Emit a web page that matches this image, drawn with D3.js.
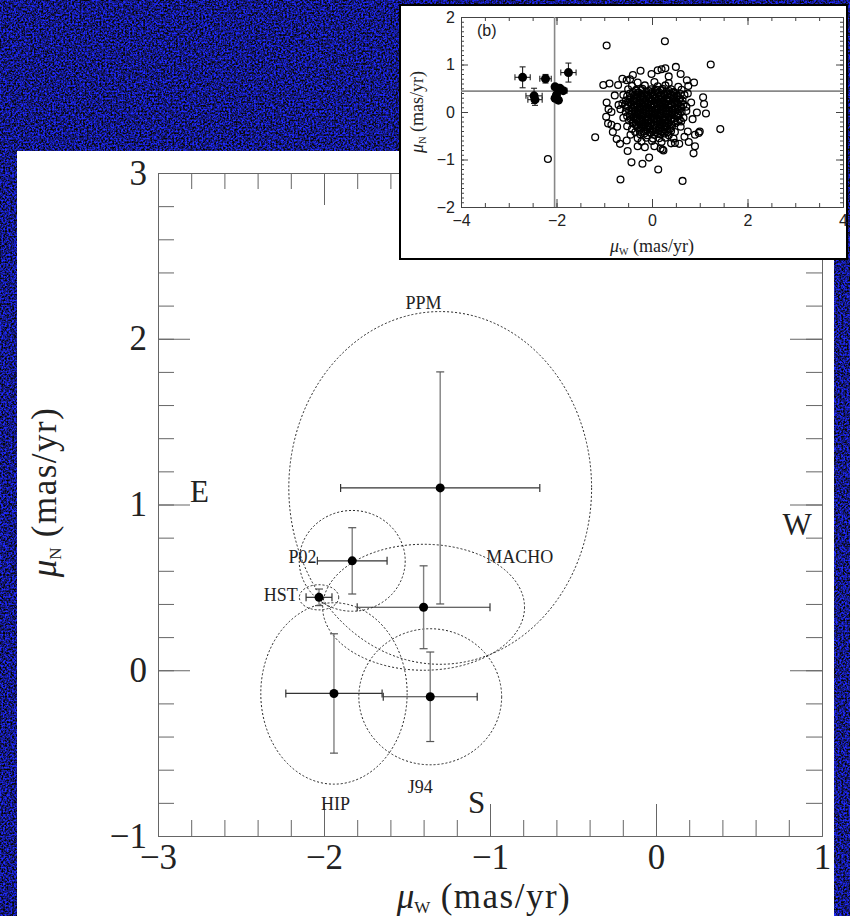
<!DOCTYPE html>
<html>
<head>
<meta charset="utf-8">
<script src="https://cdn.jsdelivr.net/npm/d3@7"></script>
<style>
  body { margin: 0; background: #0a1280; }
  svg { display: block; }
</style>
</head>
<body>
<div id="chart"></div>
<script>
// main panel: proper motion per catalogue
var catalogs = ["PPM", "P02", "HST", "MACHO", "HIP", "J94"];
var muW = [-1.30, -1.83, -2.03, -1.40, -1.94, -1.36];
var muN = [1.10, 0.66, 0.44, 0.38, -0.14, -0.16];
var errW = [0.60, 0.21, 0.078, 0.40, 0.29, 0.283];
var errN = [0.70, 0.20, 0.05, 0.25, 0.36, 0.27];
var labelW = [-1.40, -2.13, -2.26, -0.82, -1.93, -1.42];
var labelN = [2.18, 0.645, 0.42, 0.645, -0.845, -0.742];

var compass = ["E", "W", "S"];
var compassW = [-2.75, 0.85, -1.08];
var compassN = [1.015, 0.816, -0.862];

var xTicks = [-3, -2, -1, 0, 1];
var xTickLabels = ["\u22123", "\u22122", "\u22121", "0", "1"];
var yTicks = [-1, 0, 1, 2, 3];
var yTickLabels = ["\u22121", "0", "1", "2", "3"];

// inset (b): filled points with errors
var insetW = [-2.71, -2.23, -1.75, -2.47, -2.45, -2.03, -1.93, -1.86, -2.00, -1.96, -2.03];
var insetN = [0.73, 0.70, 0.83, 0.34, 0.26, 0.53, 0.50, 0.45, 0.36, 0.25, 0.29];
var insetErrW = [0.16, 0.12, 0.16, 0.17, 0.15, 0.06, 0.06, 0.08, 0.05, 0.05, 0.05];
var insetErrN = [0.22, 0.09, 0.20, 0.16, 0.12, 0.05, 0.05, 0.06, 0.05, 0.05, 0.05];
var insetCross = [-2.04, 0.44];
var insetTicks = [-4, -2, 0, 2, 4];
var insetTickLabels = ["\u22124", "\u22122", "0", "2", "4"];
var insetYTicks = [-2, -1, 0, 1, 2];
var insetYTickLabels = ["\u22122", "\u22121", "0", "1", "2"];

// inset (b): field stars, open circles
var fieldStars = [
  [-0.95,1.40],[0.27,1.49],[1.23,1.00],[-1.02,0.57],[-0.89,0.60],[-1.19,-0.53],[-0.66,-1.42],
  [0.64,-1.45],[0.13,-1.21],[-0.43,-1.06],[-0.20,-1.09],[-0.06,-0.96],[-0.51,-0.82],[1.43,-0.36],
  [0.87,-0.87],[0.90,-0.72],[1.00,-0.41],[0.98,-0.44],[1.13,-0.03],[0.94,-0.01],[1.07,0.31],
  [1.09,0.17],[0.50,0.95],[-0.24,0.87],[0.12,0.88],[0.20,0.90],[0.28,0.92],[-0.53,0.67],
  [-0.46,0.69],[-0.71,0.57],[-0.95,0.20],[0.73,0.67],[0.88,0.62],[0.76,0.55],[0.24,-0.81],
  [0.22,-0.79],[0.18,-0.77],[0.48,-0.65],[0.57,-0.67],[0.77,-0.63],[0.90,-0.48],[-0.74,-0.57],
  [-0.67,-0.67],[-0.53,-0.60],[-0.92,-0.24],[-0.85,-0.27],[-0.96,-0.10],[-0.85,0.00],[-0.91,0.06],
  [-0.73,-0.31],[-0.15,-0.74],[0.40,-0.66],[0.75,-0.41],[0.61,-0.20],[0.72,0.02],[0.75,0.39],
  [-0.01,0.80],[-2.18,-0.99],[-0.62,0.70],[-0.78,0.35],[-0.70,0.15],[-0.82,-0.42],[0.82,0.20],
  [0.85,-0.15],[0.68,-0.52],[-0.30,-0.72],[0.05,-0.72],[0.35,0.75],[-0.40,0.78],[0.60,0.80],
  [-0.30,0.62],[0.05,0.63],[0.35,0.61],[-0.42,0.55],[-0.15,0.56],[0.12,0.54],[0.28,0.56],[0.55,0.53],
  [-0.50,0.48],[-0.33,0.47],[-0.20,0.49],[-0.02,0.48],[0.10,0.47],[0.22,0.49],[0.40,0.48],[0.62,0.47],
  [-0.40,0.42],[-0.28,0.41],[-0.12,0.43],[0.00,0.42],[0.15,0.41],[0.30,0.43],[0.45,0.42],
  [-0.60,0.36],[-0.35,0.37],[-0.22,0.35],[-0.08,0.36],[0.05,0.37],[0.18,0.35],[0.27,0.36],[0.38,0.37],[0.52,0.35],[0.68,0.36],
  [-0.45,0.30],[-0.30,0.31],[-0.18,0.29],[-0.05,0.30],[0.08,0.31],[0.20,0.29],[0.33,0.30],[0.46,0.31],[0.58,0.29],
  [-0.55,0.24],[-0.38,0.25],[-0.25,0.23],[-0.12,0.24],[0.00,0.25],[0.12,0.23],[0.24,0.24],[0.36,0.25],[0.50,0.23],[0.64,0.24],
  [-0.62,0.18],[-0.44,0.19],[-0.32,0.17],[-0.20,0.18],[-0.08,0.19],[0.04,0.17],[0.16,0.18],[0.28,0.19],[0.40,0.17],[0.55,0.18],
  [-0.50,0.12],[-0.37,0.13],[-0.26,0.11],[-0.14,0.12],[-0.02,0.13],[0.10,0.11],[0.22,0.12],[0.34,0.13],[0.47,0.11],[0.60,0.12],[0.72,0.11],
  [-0.66,0.06],[-0.42,0.07],[-0.30,0.05],[-0.18,0.06],[-0.06,0.07],[0.06,0.05],[0.18,0.06],[0.30,0.07],[0.42,0.05],[0.54,0.06],
  [-0.55,0.00],[-0.36,0.01],[-0.24,-0.01],[-0.12,0.00],[0.00,0.01],[0.12,-0.01],[0.24,0.00],[0.36,0.01],[0.48,-0.01],[0.62,0.00],
  [-0.46,-0.06],[-0.30,-0.05],[-0.18,-0.07],[-0.06,-0.06],[0.06,-0.05],[0.18,-0.07],[0.30,-0.06],[0.42,-0.05],[0.56,-0.07],
  [-0.60,-0.12],[-0.38,-0.11],[-0.26,-0.13],[-0.14,-0.12],[-0.02,-0.11],[0.10,-0.13],[0.22,-0.12],[0.34,-0.11],[0.46,-0.13],[0.66,-0.12],
  [-0.48,-0.18],[-0.32,-0.17],[-0.20,-0.19],[-0.08,-0.18],[0.04,-0.17],[0.16,-0.19],[0.28,-0.18],[0.40,-0.17],[0.54,-0.19],
  [-0.40,-0.24],[-0.26,-0.23],[-0.14,-0.25],[-0.02,-0.24],[0.10,-0.23],[0.22,-0.25],[0.34,-0.24],[0.50,-0.23],
  [-0.52,-0.30],[-0.32,-0.29],[-0.20,-0.31],[-0.08,-0.30],[0.04,-0.29],[0.16,-0.31],[0.28,-0.30],[0.42,-0.29],[0.60,-0.31],
  [-0.42,-0.36],[-0.25,-0.35],[-0.10,-0.37],[0.02,-0.36],[0.14,-0.35],[0.26,-0.37],[0.38,-0.36],
  [-0.35,-0.42],[-0.18,-0.41],[-0.04,-0.43],[0.08,-0.42],[0.20,-0.41],[0.32,-0.43],[0.48,-0.42],
  [-0.45,-0.48],[-0.25,-0.47],[-0.10,-0.49],[0.05,-0.48],[0.18,-0.47],[0.35,-0.49],
  [-0.30,-0.55],[-0.12,-0.54],[0.02,-0.56],[0.15,-0.55],[0.28,-0.54],[0.45,-0.56],
  [-0.22,-0.62],[0.00,-0.61],[0.20,-0.63],
  // dense core
  [-0.34,0.45],[-0.22,0.46],[-0.06,0.44],[0.06,0.45],[0.20,0.46],[0.36,0.44],
  [-0.46,0.39],[-0.30,0.40],[-0.16,0.38],[-0.02,0.39],[0.11,0.40],[0.24,0.38],[0.33,0.39],[0.45,0.40],[0.60,0.38],
  [-0.52,0.33],[-0.38,0.34],[-0.24,0.32],[-0.12,0.33],[0.02,0.34],[0.14,0.32],[0.26,0.33],[0.40,0.34],[0.52,0.32],
  [-0.47,0.27],[-0.32,0.28],[-0.19,0.26],[-0.06,0.27],[0.06,0.28],[0.18,0.26],[0.30,0.27],[0.43,0.28],[0.57,0.26],
  [-0.50,0.21],[-0.38,0.22],[-0.26,0.20],[-0.14,0.21],[-0.02,0.22],[0.10,0.20],[0.22,0.21],[0.34,0.22],[0.47,0.20],[0.60,0.21],
  [-0.56,0.15],[-0.43,0.16],[-0.31,0.14],[-0.20,0.15],[-0.08,0.16],[0.04,0.14],[0.16,0.15],[0.28,0.16],[0.40,0.14],[0.53,0.15],[0.66,0.16],
  [-0.54,0.09],[-0.36,0.10],[-0.24,0.08],[-0.12,0.09],[0.00,0.10],[0.12,0.08],[0.24,0.09],[0.36,0.10],[0.48,0.08],[0.62,0.09],
  [-0.48,0.03],[-0.30,0.04],[-0.18,0.02],[-0.06,0.03],[0.06,0.04],[0.18,0.02],[0.30,0.03],[0.42,0.04],[0.56,0.02],
  [-0.42,-0.03],[-0.30,-0.02],[-0.18,-0.04],[-0.06,-0.03],[0.06,-0.02],[0.18,-0.04],[0.30,-0.03],[0.42,-0.02],[0.54,-0.04],
  [-0.52,-0.09],[-0.34,-0.08],[-0.22,-0.10],[-0.10,-0.09],[0.02,-0.08],[0.14,-0.10],[0.26,-0.09],[0.38,-0.08],[0.52,-0.10],
  [-0.44,-0.15],[-0.32,-0.14],[-0.20,-0.16],[-0.08,-0.15],[0.04,-0.14],[0.16,-0.16],[0.28,-0.15],[0.40,-0.14],[0.58,-0.16],
  [-0.40,-0.21],[-0.26,-0.20],[-0.14,-0.22],[-0.02,-0.21],[0.10,-0.20],[0.22,-0.22],[0.34,-0.21],[0.46,-0.20],
  [-0.34,-0.27],[-0.20,-0.26],[-0.08,-0.28],[0.04,-0.27],[0.16,-0.26],[0.28,-0.28],[0.40,-0.27],
  [-0.30,-0.33],[-0.16,-0.32],[-0.04,-0.34],[0.08,-0.33],[0.20,-0.32],[0.32,-0.34],
  [-0.26,-0.39],[-0.10,-0.38],[0.02,-0.40],[0.14,-0.39],[0.26,-0.38],[0.40,-0.40],
  [-0.16,-0.45],[-0.02,-0.44],[0.12,-0.46],[0.26,-0.45]
];

var K = 1.52; // 1-sigma joint confidence ellipse scale

var svg = d3.select("#chart").append("svg")
  .attr("width", 850)
  .attr("height", 916);

// noisy blue backdrop
var defs = svg.append("defs");
var noise = defs.append("filter").attr("id", "noise")
  .attr("x", 0).attr("y", 0).attr("width", "100%").attr("height", "100%")
  .attr("color-interpolation-filters", "sRGB");
noise.append("feTurbulence")
  .attr("type", "fractalNoise")
  .attr("baseFrequency", 0.55)
  .attr("numOctaves", 2)
  .attr("seed", 11);
noise.append("feColorMatrix")
  .attr("type", "matrix")
  .attr("values", "0 0.2 0 0 -0.02  0 0.3 0 0 -0.05  0 2.6 0 0 -0.78  0 0 0 0 1");

svg.append("rect").attr("width", 850).attr("height", 916).attr("fill", "#0a1280");
svg.append("rect").attr("width", 850).attr("height", 916).attr("filter", "url(#noise)");

// white main panel
svg.append("rect")
  .attr("x", 17).attr("y", 151)
  .attr("width", 817).attr("height", 765)
  .attr("fill", "#fff");

var serif = "'Liberation Serif', 'Times New Roman', serif";
var sans = "'Liberation Sans', Arial, sans-serif";
var axisColor = "#666";

var x = d3.scaleLinear().domain([-3, 1]).range([158, 822]);
var y = d3.scaleLinear().domain([-1, 3]).range([836, 173]);

function styleAxis(g, color) {
  g.select(".domain").attr("stroke", color);
  g.selectAll(".tick line").attr("stroke", color);
}

// frame: minor + major ticks on all four sides, pointing inward
var frame = svg.append("g");
frame.append("g").attr("transform", "translate(0,836)")
  .call(d3.axisBottom(x).tickValues(x.ticks(20)).tickSize(-16).tickSizeOuter(0).tickFormat(""))
  .call(styleAxis, axisColor);
frame.append("g").attr("transform", "translate(0,836)")
  .call(d3.axisBottom(x).tickValues(xTicks).tickSize(-32).tickSizeOuter(0).tickPadding(8)
    .tickFormat(function (d, i) { return xTickLabels[i]; }))
  .call(styleAxis, axisColor)
  .selectAll("text").attr("font-family", serif).attr("font-size", 35).attr("fill", "#222");
frame.append("g").attr("transform", "translate(0,173)")
  .call(d3.axisTop(x).tickValues(x.ticks(20)).tickSize(-16).tickSizeOuter(0).tickFormat(""))
  .call(styleAxis, axisColor);
frame.append("g").attr("transform", "translate(0,173)")
  .call(d3.axisTop(x).tickValues(xTicks).tickSize(-32).tickSizeOuter(0).tickFormat(""))
  .call(styleAxis, axisColor);
frame.append("g").attr("transform", "translate(158,0)")
  .call(d3.axisLeft(y).tickValues(y.ticks(20)).tickSize(-16).tickSizeOuter(0).tickFormat(""))
  .call(styleAxis, axisColor);
frame.append("g").attr("transform", "translate(158,0)")
  .call(d3.axisLeft(y).tickValues(yTicks).tickSize(-32).tickSizeOuter(0).tickPadding(11)
    .tickFormat(function (d, i) { return yTickLabels[i]; }))
  .call(styleAxis, axisColor)
  .selectAll("text").attr("font-family", serif).attr("font-size", 35).attr("fill", "#222");
frame.append("g").attr("transform", "translate(822,0)")
  .call(d3.axisRight(y).tickValues(y.ticks(20)).tickSize(-16).tickSizeOuter(0).tickFormat(""))
  .call(styleAxis, axisColor);
frame.append("g").attr("transform", "translate(822,0)")
  .call(d3.axisRight(y).tickValues(yTicks).tickSize(-32).tickSizeOuter(0).tickFormat(""))
  .call(styleAxis, axisColor);

// axis titles
var xTitle = svg.append("text")
  .attr("x", 484).attr("y", 908)
  .attr("text-anchor", "middle")
  .attr("font-family", serif).attr("font-size", 35).attr("fill", "#222");
xTitle.append("tspan").attr("font-style", "italic").text("\u03bc");
xTitle.append("tspan").attr("font-size", 17).attr("dy", 5).text("W");
xTitle.append("tspan").attr("dy", -5).attr("letter-spacing", 1.5).text(" (mas/yr)");

var yTitle = svg.append("text")
  .attr("transform", "translate(56,492) rotate(-90)")
  .attr("text-anchor", "middle")
  .attr("font-family", serif).attr("font-size", 35).attr("fill", "#222");
yTitle.append("tspan").attr("font-style", "italic").text("\u03bc");
yTitle.append("tspan").attr("font-size", 17).attr("dy", 5).text("N");
yTitle.append("tspan").attr("dy", -5).attr("letter-spacing", 1.5).text(" (mas/yr)");

// confidence ellipses
var plot = svg.append("g");
plot.selectAll(".ell")
  .data(catalogs)
  .enter().append("ellipse")
  .attr("class", "ell")
  .attr("cx", function (d, i) { return x(muW[i]); })
  .attr("cy", function (d, i) { return y(muN[i]); })
  .attr("rx", function (d, i) { return x(muW[i] + K * errW[i]) - x(muW[i]); })
  .attr("ry", function (d, i) { return y(muN[i]) - y(muN[i] + K * errN[i]); })
  .attr("fill", "none")
  .attr("stroke", "#222")
  .attr("stroke-width", 1)
  .attr("stroke-dasharray", "2,2");

// error bars
var capW = 4;
catalogs.forEach(function (c, i) {
  var g = plot.append("g");
  var x0 = x(muW[i] - errW[i]), x1 = x(muW[i] + errW[i]);
  var y0 = y(muN[i] - errN[i]), y1 = y(muN[i] + errN[i]);
  var cx = x(muW[i]), cy = y(muN[i]);
  g.append("line").attr("x1", x0).attr("x2", x1).attr("y1", cy).attr("y2", cy)
    .attr("stroke", "#333").attr("stroke-width", 1.2);
  [x0, x1].forEach(function (xx) {
    g.append("line").attr("x1", xx).attr("x2", xx).attr("y1", cy - capW).attr("y2", cy + capW)
      .attr("stroke", "#333").attr("stroke-width", 1.2);
  });
  g.append("line").attr("x1", cx).attr("x2", cx).attr("y1", y0).attr("y2", y1)
    .attr("stroke", "#808080").attr("stroke-width", 1.4);
  [y0, y1].forEach(function (yy) {
    g.append("line").attr("x1", cx - capW).attr("x2", cx + capW).attr("y1", yy).attr("y2", yy)
      .attr("stroke", "#555").attr("stroke-width", 1.2);
  });
});

plot.selectAll(".pt")
  .data(catalogs)
  .enter().append("circle")
  .attr("class", "pt")
  .attr("cx", function (d, i) { return x(muW[i]); })
  .attr("cy", function (d, i) { return y(muN[i]); })
  .attr("r", 4.5)
  .attr("fill", "#000");

// catalogue labels
plot.selectAll(".lbl")
  .data(catalogs)
  .enter().append("text")
  .attr("class", "lbl")
  .attr("x", function (d, i) { return x(labelW[i]); })
  .attr("y", function (d, i) { return y(labelN[i]); })
  .attr("text-anchor", "middle")
  .attr("font-family", serif).attr("font-size", 18).attr("fill", "#222")
  .text(function (d) { return d; });

plot.selectAll(".dir")
  .data(compass)
  .enter().append("text")
  .attr("class", "dir")
  .attr("x", function (d, i) { return x(compassW[i]); })
  .attr("y", function (d, i) { return y(compassN[i]); })
  .attr("text-anchor", "middle")
  .attr("font-family", serif).attr("font-size", 31).attr("fill", "#222")
  .text(function (d) { return d; });

// ---- inset (b) ----
svg.append("rect")
  .attr("x", 400).attr("y", 5)
  .attr("width", 447).attr("height", 254)
  .attr("fill", "#fff")
  .attr("stroke", "#000")
  .attr("stroke-width", 2);

var xi = d3.scaleLinear().domain([-4, 4]).range([461, 843]);
var yi = d3.scaleLinear().domain([-2, 2]).range([207, 17]);
var inset = svg.append("g");
var insetColor = "#444";

inset.append("g").attr("transform", "translate(0,207)")
  .call(d3.axisBottom(xi).tickValues(xi.ticks(16)).tickSize(-4).tickSizeOuter(0).tickFormat(""))
  .call(styleAxis, insetColor);
inset.append("g").attr("transform", "translate(0,207)")
  .call(d3.axisBottom(xi).tickValues(insetTicks).tickSize(-8).tickSizeOuter(0).tickPadding(8)
    .tickFormat(function (d, i) { return insetTickLabels[i]; }))
  .call(styleAxis, insetColor)
  .selectAll("text").attr("font-family", sans).attr("font-size", 16).attr("fill", "#222");
inset.append("g").attr("transform", "translate(0,17)")
  .call(d3.axisTop(xi).tickValues(xi.ticks(16)).tickSize(-4).tickSizeOuter(0).tickFormat(""))
  .call(styleAxis, insetColor);
inset.append("g").attr("transform", "translate(0,17)")
  .call(d3.axisTop(xi).tickValues(insetTicks).tickSize(-8).tickSizeOuter(0).tickFormat(""))
  .call(styleAxis, insetColor);
inset.append("g").attr("transform", "translate(461,0)")
  .call(d3.axisLeft(yi).tickValues(yi.ticks(40)).tickSize(-3).tickSizeOuter(0).tickFormat(""))
  .call(styleAxis, insetColor);
inset.append("g").attr("transform", "translate(461,0)")
  .call(d3.axisLeft(yi).tickValues(insetYTicks).tickSize(-7).tickSizeOuter(0).tickPadding(6)
    .tickFormat(function (d, i) { return insetYTickLabels[i]; }))
  .call(styleAxis, insetColor)
  .selectAll("text").attr("font-family", sans).attr("font-size", 16).attr("fill", "#222");
inset.append("g").attr("transform", "translate(843,0)")
  .call(d3.axisRight(yi).tickValues(yi.ticks(40)).tickSize(-3).tickSizeOuter(0).tickFormat(""))
  .call(styleAxis, insetColor);
inset.append("g").attr("transform", "translate(843,0)")
  .call(d3.axisRight(yi).tickValues(insetYTicks).tickSize(-7).tickSizeOuter(0).tickFormat(""))
  .call(styleAxis, insetColor);

// crosshair at the adopted mean motion
inset.append("line")
  .attr("x1", xi(insetCross[0])).attr("x2", xi(insetCross[0]))
  .attr("y1", yi(-2)).attr("y2", yi(2))
  .attr("stroke", "#888").attr("stroke-width", 1.6);
inset.append("line")
  .attr("x1", xi(-4)).attr("x2", xi(4))
  .attr("y1", yi(insetCross[1])).attr("y2", yi(insetCross[1]))
  .attr("stroke", "#888").attr("stroke-width", 1.6);

inset.selectAll(".fs")
  .data(fieldStars)
  .enter().append("circle")
  .attr("class", "fs")
  .attr("cx", function (d) { return xi(d[0]); })
  .attr("cy", function (d) { return yi(d[1]); })
  .attr("r", 3.4)
  .attr("fill", "none")
  .attr("stroke", "#000")
  .attr("stroke-width", 1.3);

insetW.forEach(function (w, i) {
  var cx = xi(w), cy = yi(insetN[i]);
  var x0 = xi(w - insetErrW[i]), x1 = xi(w + insetErrW[i]);
  var y0 = yi(insetN[i] - insetErrN[i]), y1 = yi(insetN[i] + insetErrN[i]);
  var g = inset.append("g").attr("stroke", "#222").attr("stroke-width", 1.1);
  g.append("line").attr("x1", x0).attr("x2", x1).attr("y1", cy).attr("y2", cy);
  g.append("line").attr("x1", cx).attr("x2", cx).attr("y1", y0).attr("y2", y1);
  g.append("line").attr("x1", x0).attr("x2", x0).attr("y1", cy - 3).attr("y2", cy + 3);
  g.append("line").attr("x1", x1).attr("x2", x1).attr("y1", cy - 3).attr("y2", cy + 3);
  g.append("line").attr("x1", cx - 3).attr("x2", cx + 3).attr("y1", y0).attr("y2", y0);
  g.append("line").attr("x1", cx - 3).attr("x2", cx + 3).attr("y1", y1).attr("y2", y1);
});
inset.selectAll(".ip")
  .data(insetW)
  .enter().append("circle")
  .attr("class", "ip")
  .attr("cx", function (d) { return xi(d); })
  .attr("cy", function (d, i) { return yi(insetN[i]); })
  .attr("r", 4.5)
  .attr("fill", "#000");

inset.append("text")
  .attr("x", 477).attr("y", 36)
  .attr("font-family", sans).attr("font-size", 16).attr("fill", "#222")
  .text("(b)");

var xiTitle = inset.append("text")
  .attr("x", 652).attr("y", 252)
  .attr("text-anchor", "middle")
  .attr("font-family", serif).attr("font-size", 18).attr("fill", "#222");
xiTitle.append("tspan").attr("font-style", "italic").text("\u03bc");
xiTitle.append("tspan").attr("font-size", 10).attr("dy", 3).text("W");
xiTitle.append("tspan").attr("dy", -3).text(" (mas/yr)");

var yiTitle = inset.append("text")
  .attr("transform", "translate(423,112) rotate(-90)")
  .attr("text-anchor", "middle")
  .attr("font-family", serif).attr("font-size", 18).attr("fill", "#222");
yiTitle.append("tspan").attr("font-style", "italic").text("\u03bc");
yiTitle.append("tspan").attr("font-size", 10).attr("dy", 3).text("N");
yiTitle.append("tspan").attr("dy", -3).text(" (mas/yr)");
</script>
</body>
</html>
